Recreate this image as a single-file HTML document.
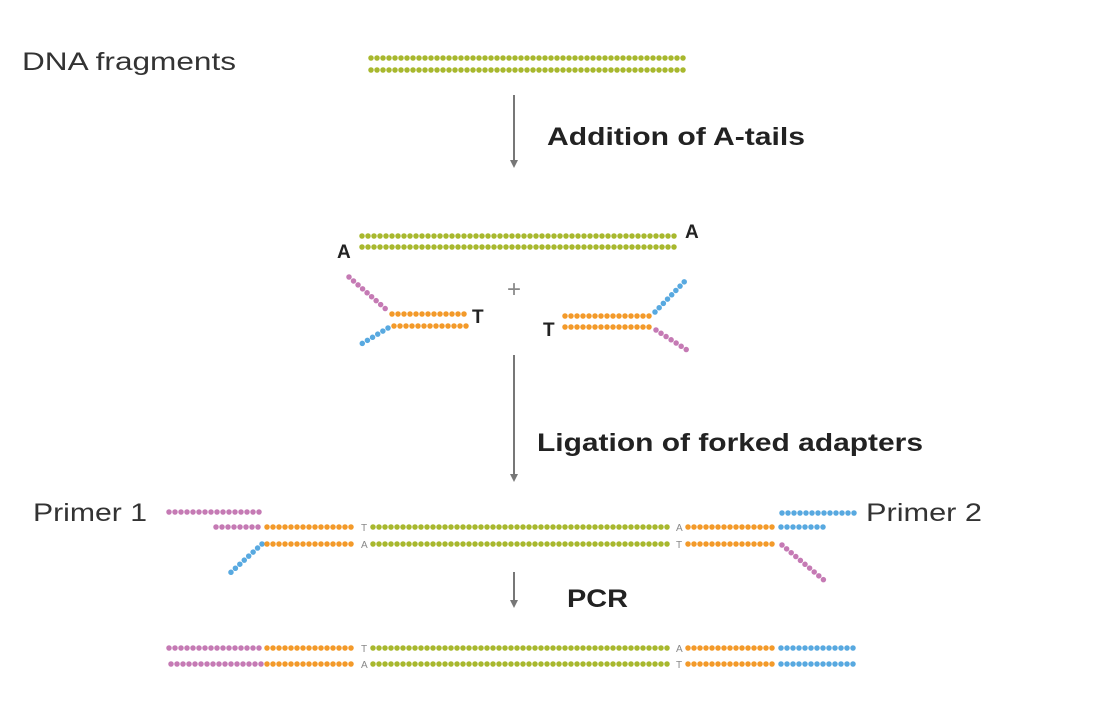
<!DOCTYPE html>
<html><head><meta charset="utf-8"><style>
html,body{margin:0;padding:0;background:#fff;}
svg{display:block;}
.g{stroke:#a8b82e}.o{stroke:#f39a2a}.p{stroke:#c57ab4}.b{stroke:#58a9e0}
line.d{stroke-width:5.5;stroke-linecap:round;stroke-dasharray:0 6;}
text{font-family:"Liberation Sans",sans-serif;}
.lbl{font-size:25px;fill:#333;}
.bold{font-size:25px;font-weight:bold;fill:#222;}
.sm{font-size:10px;fill:#888;}
.arr{stroke:#777;stroke-width:2;}
</style></head><body>
<svg width="1100" height="707" viewBox="0 0 1100 707">
<defs><marker id="ah" markerWidth="8" markerHeight="8" refX="4" refY="4" orient="auto" markerUnits="userSpaceOnUse"><path d="M0,0 L8,4 L0,8 z" fill="#777"/></marker></defs>
<text x="22" y="70" class="lbl" textLength="214" lengthAdjust="spacingAndGlyphs">DNA fragments</text>
<line class="d g" x1="371" y1="58" x2="688" y2="58"/>
<line class="d g" x1="371" y1="70" x2="688" y2="70"/>
<line class="arr" x1="514" y1="95" x2="514" y2="164" marker-end="url(#ah)"/>
<text x="547" y="145" class="bold" textLength="258" lengthAdjust="spacingAndGlyphs">Addition of A-tails</text>
<line class="d g" x1="362" y1="236" x2="676" y2="236"/>
<line class="d g" x1="362" y1="247" x2="676" y2="247"/>
<text x="337" y="258" class="bold" style="font-size:19px">A</text>
<text x="685" y="238" class="bold" style="font-size:19px">A</text>
<text x="507" y="297" style="font-size:24px;fill:#888">+</text>
<line class="d o" x1="392" y1="314" x2="468" y2="314"/>
<line class="d o" x1="394" y1="326" x2="468" y2="326"/>
<text x="472" y="323" class="bold" style="font-size:19px">T</text>
<line class="d p" x1="349" y1="277" x2="388" y2="311"/>
<line class="d b" x1="388" y1="328" x2="358" y2="346"/>
<line class="d o" x1="565" y1="316" x2="652" y2="316"/>
<line class="d o" x1="565" y1="327" x2="652" y2="327"/>
<text x="543" y="336" class="bold" style="font-size:19px">T</text>
<line class="d b" x1="655" y1="312" x2="686" y2="280"/>
<line class="d p" x1="656" y1="330" x2="690" y2="352"/>
<line class="arr" x1="514" y1="355" x2="514" y2="478" marker-end="url(#ah)"/>
<text x="537" y="451" class="bold" textLength="386" lengthAdjust="spacingAndGlyphs">Ligation of forked adapters</text>
<text x="33" y="521" class="lbl" textLength="114" lengthAdjust="spacingAndGlyphs">Primer 1</text>
<text x="866" y="521" class="lbl" textLength="116" lengthAdjust="spacingAndGlyphs">Primer 2</text>
<line class="d p" x1="169" y1="512" x2="262" y2="512"/>
<line class="d b" x1="782" y1="513" x2="855" y2="513"/>
<line class="d p" x1="216" y1="527" x2="262" y2="527"/>
<line class="d o" x1="267" y1="527" x2="354" y2="527"/>
<text x="361" y="531" class="sm">T</text>
<line class="d g" x1="373" y1="527" x2="670" y2="527"/>
<text x="676" y="531" class="sm">A</text>
<line class="d o" x1="688" y1="527" x2="775" y2="527"/>
<line class="d b" x1="781" y1="527" x2="828" y2="527"/>
<line class="d b" x1="262" y1="544" x2="228" y2="575"/>
<line class="d o" x1="267" y1="544" x2="354" y2="544"/>
<text x="361" y="548" class="sm">A</text>
<line class="d g" x1="373" y1="544" x2="670" y2="544"/>
<text x="676" y="548" class="sm">T</text>
<line class="d o" x1="688" y1="544" x2="775" y2="544"/>
<line class="d p" x1="782" y1="545" x2="825" y2="581"/>
<line class="arr" x1="514" y1="572" x2="514" y2="604" marker-end="url(#ah)"/>
<text x="567" y="607" class="bold" textLength="61" lengthAdjust="spacingAndGlyphs">PCR</text>
<line class="d p" x1="169" y1="648" x2="262" y2="648"/>
<line class="d o" x1="267" y1="648" x2="354" y2="648"/>
<text x="361" y="652" class="sm">T</text>
<line class="d g" x1="373" y1="648" x2="670" y2="648"/>
<text x="676" y="652" class="sm">A</text>
<line class="d o" x1="688" y1="648" x2="775" y2="648"/>
<line class="d b" x1="781" y1="648" x2="855" y2="648"/>
<line class="d p" x1="171" y1="664" x2="262" y2="664"/>
<line class="d o" x1="267" y1="664" x2="354" y2="664"/>
<text x="361" y="668" class="sm">A</text>
<line class="d g" x1="373" y1="664" x2="670" y2="664"/>
<text x="676" y="668" class="sm">T</text>
<line class="d o" x1="688" y1="664" x2="775" y2="664"/>
<line class="d b" x1="781" y1="664" x2="855" y2="664"/>
</svg>
</body></html>
